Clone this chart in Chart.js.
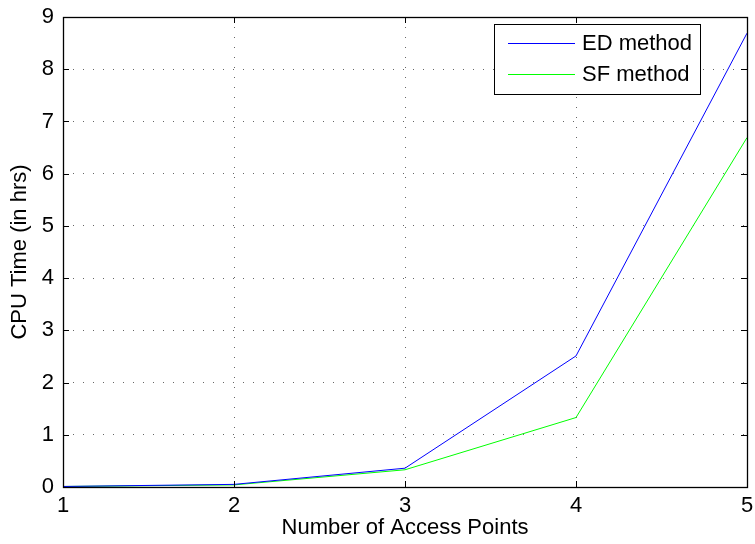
<!DOCTYPE html>
<html>
<head>
<meta charset="utf-8">
<script src="https://cdn.jsdelivr.net/npm/chart.js@4/dist/chart.umd.min.js"></script>
<style>
  html, body { margin: 0; padding: 0; background: #fff; }
  #wrap { width: 755px; height: 544px; }
</style>
</head>
<body>
<div id="wrap"><canvas id="c" width="755" height="544"></canvas></div>
<script>
// Number of access points on the x axis
const accessPoints = [1, 2, 3, 4, 5];
// CPU time in hours for each method
const edMethod = [0.01, 0.05, 0.36, 2.51, 8.69];
const sfMethod = [0.01, 0.04, 0.33, 1.33, 6.69];
const seriesLabels = ['ED method', 'SF method'];
const xTicks = [1, 2, 3, 4, 5];
const yTicks = [0, 1, 2, 3, 4, 5, 6, 7, 8, 9];

const FONT = 'Liberation Sans, Arial, Helvetica, sans-serif';
const FSIZE = 22;

// Solid box around the plot area with inward tick marks on all four sides
const framePlugin = {
  id: 'frame',
  afterDatasetsDraw(chart) {
    const { ctx, chartArea: a, scales } = chart;
    ctx.save();
    ctx.strokeStyle = '#000';
    ctx.lineWidth = 1;
    const L = 6;
    ctx.beginPath();
    xTicks.forEach(v => {
      const x = Math.round(scales.x.getPixelForValue(v)) + 0.5;
      ctx.moveTo(x, a.bottom); ctx.lineTo(x, a.bottom - L);
      ctx.moveTo(x, a.top); ctx.lineTo(x, a.top + L);
    });
    yTicks.forEach(v => {
      const y = Math.round(scales.y.getPixelForValue(v)) + 0.5;
      ctx.moveTo(a.left, y); ctx.lineTo(a.left + L, y);
      ctx.moveTo(a.right, y); ctx.lineTo(a.right - L, y);
    });
    ctx.stroke();
    ctx.lineWidth = 1.3;
    ctx.strokeRect(Math.round(a.left) + 0.5, Math.round(a.top) + 0.5,
                   Math.round(a.right - a.left), Math.round(a.bottom - a.top));
    ctx.restore();
  }
};

// Boxed legend in the upper right corner
const boxLegendPlugin = {
  id: 'boxLegend',
  afterDraw(chart) {
    const { ctx } = chart;
    const x0 = 494, y0 = 24, w = 206, h = 70;
    ctx.save();
    ctx.fillStyle = '#fff';
    ctx.fillRect(x0, y0, w, h);
    ctx.strokeStyle = '#000';
    ctx.lineWidth = 1;
    ctx.strokeRect(x0 + 0.5, y0 + 0.5, w, h);
    ctx.font = FSIZE + 'px ' + FONT;
    ctx.textBaseline = 'middle';
    chart.data.datasets.forEach((ds, i) => {
      const y = y0 + 19 + i * 31;
      ctx.strokeStyle = ds.borderColor;
      ctx.beginPath();
      ctx.moveTo(508, y + 0.5); ctx.lineTo(575, y + 0.5);
      ctx.stroke();
      ctx.fillStyle = '#000';
      ctx.fillText(ds.label, 582, y + 1);
    });
    ctx.restore();
  }
};

const gridStyle = {
  color: '#666',
  lineWidth: 1,
  drawTicks: false
};

new Chart(document.getElementById('c'), {
  type: 'line',
  data: {
    datasets: [
      {
        label: seriesLabels[0],
        data: accessPoints.map((x, i) => ({ x, y: edMethod[i] })),
        borderColor: '#0000ff',
        borderWidth: 1,
        pointRadius: 0,
        tension: 0
      },
      {
        label: seriesLabels[1],
        data: accessPoints.map((x, i) => ({ x, y: sfMethod[i] })),
        borderColor: '#00ff00',
        borderWidth: 1,
        pointRadius: 0,
        tension: 0
      }
    ]
  },
  options: {
    responsive: false,
    animation: false,
    layout: { padding: { left: 0, right: 8, top: 17, bottom: 0 } },
    plugins: { legend: { display: false }, tooltip: { enabled: false } },
    scales: {
      x: {
        type: 'linear',
        min: 1, max: 5,
        afterBuildTicks: s => { s.ticks = xTicks.map(v => ({ value: v })); },
        afterFit: s => { s.height = 57; s.paddingLeft = 0; s.paddingRight = 0; },
        grid: { ...gridStyle },
        border: { display: false, dash: [1, 9] },
        ticks: { color: '#000', padding: 6, font: { family: FONT, size: FSIZE }, maxRotation: 0 },
        title: {
          display: true,
          text: 'Number of Access Points',
          color: '#000',
          font: { family: FONT, size: FSIZE },
          padding: { top: 0, bottom: 3 }
        }
      },
      y: {
        min: 0, max: 9,
        afterBuildTicks: s => { s.ticks = yTicks.map(v => ({ value: v })); },
        afterFit: s => { s.width = 63; s.paddingTop = 0; s.paddingBottom = 0; },
        grid: { ...gridStyle },
        border: { display: false, dash: [1, 9] },
        ticks: { color: '#000', padding: 9, font: { family: FONT, size: FSIZE } },
        title: {
          display: true,
          text: 'CPU Time (in hrs)',
          color: '#000',
          font: { family: FONT, size: FSIZE },
          padding: { top: 6.8, bottom: 0 }
        }
      }
    }
  },
  plugins: [framePlugin, boxLegendPlugin]
});
</script>
</body>
</html>
